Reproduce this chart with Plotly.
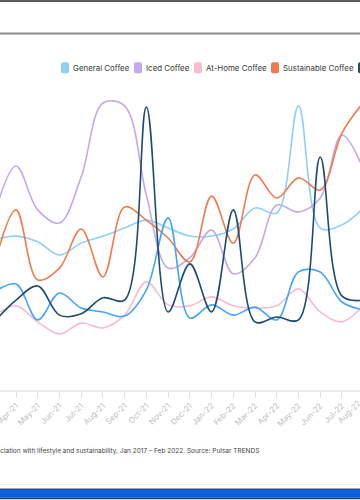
import plotly.graph_objects as go

# ---------------- data (monthly index values) ----------------
months = ["Mar-21", "Apr-21", "May-21", "Jun-21", "Jul-21", "Aug-21", "Sep-21",
          "Oct-21", "Nov-21", "Dec-21", "Jan-22", "Feb-22", "Mar-22", "Apr-22",
          "May-22", "Jun-22", "Jul-22", "Aug-22"]

general_coffee = [46.9, 48.1, 46.3, 42.2, 45.9, 48.1, 50.6, 53.1, 50.6, 48.1,
                  48.1, 50.3, 56.9, 55.3, 88.8, 50.6, 51.6, 56.9]
iced_coffee = [54.7, 70.0, 56.3, 52.2, 66.6, 89.7, 88.8, 60.9, 38.1, 41.3,
               50.0, 36.3, 41.3, 57.8, 55.6, 60.0, 79.7, 68.8]
at_home_coffee = [23.1, 26.3, 21.3, 17.5, 20.9, 19.4, 23.4, 33.8, 26.6, 26.3,
                  29.1, 26.3, 25.6, 26.3, 31.6, 24.4, 21.3, 26.6]
sustainable_coffee = [39.1, 56.3, 34.4, 38.1, 50.3, 35.3, 57.2, 53.1, 47.5, 40.0,
                      60.6, 45.9, 67.2, 60.0, 66.3, 62.5, 80.3, 90.0]
specialty_coffee = [21.3, 28.1, 32.5, 23.4, 23.8, 28.8, 28.1, 88.4, 24.4, 39.4,
                    24.4, 56.3, 21.3, 22.8, 21.9, 72.8, 29.4, 28.1]
coffee_shops = [30.6, 33.1, 21.9, 30.3, 25.6, 24.4, 23.1, 31.3, 53.8, 22.5,
                26.6, 23.4, 25.9, 21.9, 36.9, 36.9, 27.5, 25.0]

series_names = ["General Coffee", "Iced Coffee", "At-Home Coffee",
                "Sustainable Coffee", "Specialty Coffee", "Coffee Shops"]
series_values = [general_coffee, iced_coffee, at_home_coffee,
                 sustainable_coffee, specialty_coffee, coffee_shops]
series_colors = ["#8fd1f6", "#c4a8ec", "#f8bcd1", "#ee7c4e", "#1f4b70", "#46a5fb"]

caption = ("Conversation volumes by coffee theme and their association with lifestyle "
           "and sustainability, Jan 2017 – Feb 2022. Source: Pulsar TRENDS")

# ---------------- layout helpers ----------------
W, H = 360, 500
FONT = "Inter"


def px(x):
    return x / W


def py(y):
    return 1 - y / H


x_idx = list(range(len(months)))

fig = go.Figure()
draw_order = [0, 1, 2, 3, 5, 4]
for i in draw_order:
    fig.add_trace(go.Scatter(
        x=x_idx, y=series_values[i], name=series_names[i], mode="lines",
        line=dict(color=series_colors[i], width=1.6, shape="spline", smoothing=1.0),
        hoverinfo="skip", showlegend=False,
    ))

shapes = []
annotations = []

# top frame
shapes.append(dict(type="rect", xref="paper", yref="paper", x0=0, x1=1,
                   y0=py(2), y1=py(0), fillcolor="#5e5e5e", line_width=0, layer="above"))
shapes.append(dict(type="rect", xref="paper", yref="paper", x0=0, x1=1,
                   y0=py(34), y1=py(32.6), fillcolor="#8f8f8f", line_width=0, layer="above"))
shapes.append(dict(type="rect", xref="paper", yref="paper", x0=0, x1=1,
                   y0=py(35), y1=py(34), fillcolor="#c2c2c2", line_width=0, layer="above"))

# bottom frame
shapes.append(dict(type="rect", xref="paper", yref="paper", x0=0, x1=1,
                   y0=py(485), y1=py(484), fillcolor="#ececec", line_width=0, layer="above"))
shapes.append(dict(type="rect", xref="paper", yref="paper", x0=0, x1=1,
                   y0=py(490), y1=py(488.6), fillcolor="#4a4a4a", line_width=0, layer="above"))
shapes.append(dict(type="rect", xref="paper", yref="paper", x0=0, x1=1,
                   y0=py(497.7), y1=py(490), fillcolor="#0064d8", line_width=0, layer="above"))
shapes.append(dict(type="rect", xref="paper", yref="paper", x0=0, x1=1,
                   y0=py(499), y1=py(497.7), fillcolor="#2a3d62", line_width=0, layer="above"))
shapes.append(dict(type="rect", xref="paper", yref="paper", x0=0, x1=1,
                   y0=py(500), y1=py(499), fillcolor="#d0d0d0", line_width=0, layer="above"))


def rounded_rect(x0, y0, x1, y1, r):
    X = lambda v: px(v)
    Y = lambda v: py(v)
    return (f"M {X(x0 + r)} {Y(y0)} L {X(x1 - r)} {Y(y0)} Q {X(x1)} {Y(y0)} {X(x1)} {Y(y0 + r)} "
            f"L {X(x1)} {Y(y1 - r)} Q {X(x1)} {Y(y1)} {X(x1 - r)} {Y(y1)} "
            f"L {X(x0 + r)} {Y(y1)} Q {X(x0)} {Y(y1)} {X(x0)} {Y(y1 - r)} "
            f"L {X(x0)} {Y(y0 + r)} Q {X(x0)} {Y(y0)} {X(x0 + r)} {Y(y0)} Z")


# custom legend (row wider than the visible window)
legend_x = [61, 134, 194, 271, 358, 440]
legend_y = 67.8
for name, color, lx in zip(series_names, series_colors, legend_x):
    shapes.append(dict(type="path", xref="paper", yref="paper",
                       path=rounded_rect(lx, legend_y - 5.5, lx + 8, legend_y + 5.5, 2),
                       fillcolor=color, line_width=0))
    annotations.append(dict(xref="paper", yref="paper", x=px(lx + 10), y=py(legend_y),
                            xanchor="left", yanchor="middle", showarrow=False,
                            text=name, font=dict(family=FONT, size=7.9, color="#3a3a3a")))

# caption
annotations.append(dict(xref="paper", yref="paper", x=px(261), y=py(451),
                        xanchor="right", yanchor="middle", showarrow=False,
                        text=caption, font=dict(family=FONT, size=6.5, color="#444444")))

x_lo = 1 - 16 / 21.73
x_hi = 1 + (360 - 16) / 21.73

# label of the last month, whose tick sits just past the visible right edge
last_paper_x = (x_idx[-1] - x_lo) / (x_hi - x_lo)
annotations.append(dict(xref="paper", yref="paper", x=last_paper_x, y=py(397),
                        xanchor="right", yanchor="top", showarrow=False, textangle=-45,
                        text=months[-1], borderpad=0,
                        font=dict(family=FONT, size=8, color="#bdbdbd")))

fig.update_layout(
    width=W, height=H,
    margin=dict(l=0, r=0, t=0, b=0, pad=0),
    paper_bgcolor="white", plot_bgcolor="white",
    showlegend=False,
    shapes=shapes, annotations=annotations,
    font=dict(family=FONT),
    xaxis=dict(range=[x_lo, x_hi], domain=[0, 1], automargin=False,
               tickmode="array", tickvals=x_idx, ticktext=months,
               tickangle=-45, ticks="outside", ticklen=6, tickwidth=1,
               tickcolor="#e3e3e3", showline=True, linecolor="#ebebeb", linewidth=2,
               showgrid=False, zeroline=False, ticklabeloverflow="allow",
               tickfont=dict(family=FONT, size=8, color="#bdbdbd")),
    yaxis=dict(range=[0, 100], domain=[1 - 390 / H, 1 - 70 / H], visible=False,
               automargin=False, fixedrange=True),
)

fig.write_html(
    "out.html",
    config={"displayModeBar": False, "staticPlot": True},
    post_script="document.body.style.margin='0';document.body.style.overflow='hidden';",
)
